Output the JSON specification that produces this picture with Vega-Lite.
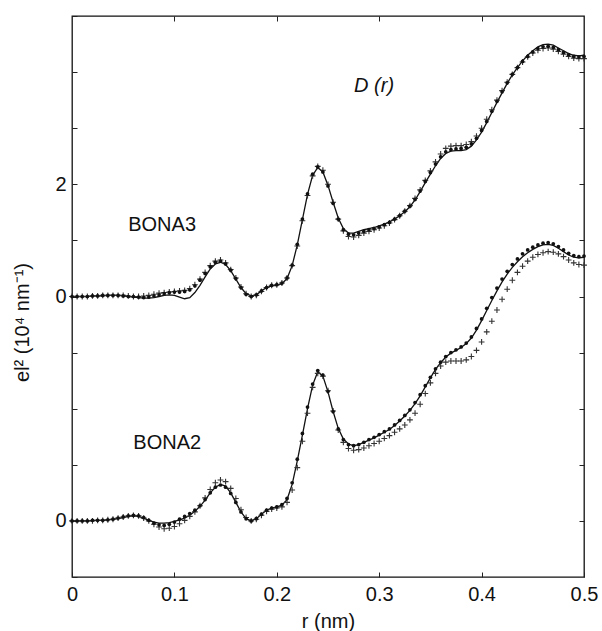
{
  "$schema": "https://vega.github.io/schema/vega-lite/v6.json",
  "width": 512,
  "height": 561,
  "autosize": {"type": "none"},
  "padding": {"left": 72, "top": 16, "right": 18, "bottom": 54},
  "background": "white",
  "config": {
    "font": "Liberation Sans",
    "view": {"stroke": "#111", "strokeWidth": 1.3},
    "axis": {"grid": false, "domain": false, "tickColor": "#222", "labelColor": "#111", "titleColor": "#111", "labelFontSize": 20, "titleFontSize": 20, "titleFontWeight": "normal", "labelFont": "Liberation Sans", "titleFont": "Liberation Sans"}
  },
  "datasets": {
    "curves": [
      {"r":0.000,"m":"BONA3","line":4.00,"plus":4.00,"dot":4.00},
      {"r":0.005,"m":"BONA3","line":4.00,"plus":4.00,"dot":4.00},
      {"r":0.010,"m":"BONA3","line":4.00,"plus":4.00,"dot":4.00},
      {"r":0.015,"m":"BONA3","line":4.00,"plus":4.00,"dot":4.00},
      {"r":0.020,"m":"BONA3","line":4.01,"plus":4.01,"dot":4.01},
      {"r":0.025,"m":"BONA3","line":4.01,"plus":4.01,"dot":4.01},
      {"r":0.030,"m":"BONA3","line":4.01,"plus":4.02,"dot":4.02},
      {"r":0.035,"m":"BONA3","line":4.02,"plus":4.02,"dot":4.02},
      {"r":0.040,"m":"BONA3","line":4.02,"plus":4.02,"dot":4.02},
      {"r":0.045,"m":"BONA3","line":4.02,"plus":4.02,"dot":4.02},
      {"r":0.050,"m":"BONA3","line":4.01,"plus":4.02,"dot":4.01},
      {"r":0.055,"m":"BONA3","line":4.00,"plus":4.01,"dot":4.00},
      {"r":0.060,"m":"BONA3","line":3.99,"plus":4.00,"dot":4.00},
      {"r":0.065,"m":"BONA3","line":3.98,"plus":4.00,"dot":3.99},
      {"r":0.070,"m":"BONA3","line":3.97,"plus":4.01,"dot":3.98},
      {"r":0.075,"m":"BONA3","line":3.97,"plus":4.02,"dot":3.99},
      {"r":0.080,"m":"BONA3","line":3.98,"plus":4.04,"dot":4.01},
      {"r":0.085,"m":"BONA3","line":4.00,"plus":4.06,"dot":4.03},
      {"r":0.090,"m":"BONA3","line":4.02,"plus":4.07,"dot":4.05},
      {"r":0.095,"m":"BONA3","line":4.03,"plus":4.08,"dot":4.07},
      {"r":0.100,"m":"BONA3","line":4.02,"plus":4.09,"dot":4.08},
      {"r":0.105,"m":"BONA3","line":3.99,"plus":4.10,"dot":4.08},
      {"r":0.110,"m":"BONA3","line":3.96,"plus":4.11,"dot":4.09},
      {"r":0.115,"m":"BONA3","line":3.98,"plus":4.14,"dot":4.12},
      {"r":0.120,"m":"BONA3","line":4.07,"plus":4.21,"dot":4.19},
      {"r":0.125,"m":"BONA3","line":4.20,"plus":4.31,"dot":4.29},
      {"r":0.130,"m":"BONA3","line":4.35,"plus":4.43,"dot":4.41},
      {"r":0.135,"m":"BONA3","line":4.49,"plus":4.55,"dot":4.53},
      {"r":0.140,"m":"BONA3","line":4.58,"plus":4.63,"dot":4.61},
      {"r":0.145,"m":"BONA3","line":4.61,"plus":4.65,"dot":4.63},
      {"r":0.150,"m":"BONA3","line":4.57,"plus":4.60,"dot":4.58},
      {"r":0.155,"m":"BONA3","line":4.46,"plus":4.48,"dot":4.47},
      {"r":0.160,"m":"BONA3","line":4.31,"plus":4.33,"dot":4.32},
      {"r":0.165,"m":"BONA3","line":4.16,"plus":4.17,"dot":4.16},
      {"r":0.170,"m":"BONA3","line":4.05,"plus":4.05,"dot":4.04},
      {"r":0.175,"m":"BONA3","line":4.01,"plus":4.00,"dot":4.00},
      {"r":0.180,"m":"BONA3","line":4.03,"plus":4.02,"dot":4.03},
      {"r":0.185,"m":"BONA3","line":4.10,"plus":4.09,"dot":4.10},
      {"r":0.190,"m":"BONA3","line":4.16,"plus":4.16,"dot":4.16},
      {"r":0.195,"m":"BONA3","line":4.19,"plus":4.20,"dot":4.20},
      {"r":0.200,"m":"BONA3","line":4.20,"plus":4.21,"dot":4.21},
      {"r":0.205,"m":"BONA3","line":4.23,"plus":4.24,"dot":4.24},
      {"r":0.210,"m":"BONA3","line":4.32,"plus":4.33,"dot":4.33},
      {"r":0.215,"m":"BONA3","line":4.55,"plus":4.55,"dot":4.56},
      {"r":0.220,"m":"BONA3","line":4.92,"plus":4.90,"dot":4.93},
      {"r":0.225,"m":"BONA3","line":5.37,"plus":5.35,"dot":5.38},
      {"r":0.230,"m":"BONA3","line":5.82,"plus":5.80,"dot":5.83},
      {"r":0.235,"m":"BONA3","line":6.16,"plus":6.15,"dot":6.18},
      {"r":0.240,"m":"BONA3","line":6.30,"plus":6.32,"dot":6.31},
      {"r":0.245,"m":"BONA3","line":6.22,"plus":6.25,"dot":6.22},
      {"r":0.250,"m":"BONA3","line":5.98,"plus":6.00,"dot":5.97},
      {"r":0.255,"m":"BONA3","line":5.68,"plus":5.68,"dot":5.66},
      {"r":0.260,"m":"BONA3","line":5.40,"plus":5.38,"dot":5.38},
      {"r":0.265,"m":"BONA3","line":5.21,"plus":5.17,"dot":5.19},
      {"r":0.270,"m":"BONA3","line":5.13,"plus":5.07,"dot":5.11},
      {"r":0.275,"m":"BONA3","line":5.13,"plus":5.06,"dot":5.10},
      {"r":0.280,"m":"BONA3","line":5.16,"plus":5.09,"dot":5.13},
      {"r":0.285,"m":"BONA3","line":5.19,"plus":5.13,"dot":5.16},
      {"r":0.290,"m":"BONA3","line":5.21,"plus":5.16,"dot":5.19},
      {"r":0.295,"m":"BONA3","line":5.23,"plus":5.19,"dot":5.21},
      {"r":0.300,"m":"BONA3","line":5.26,"plus":5.22,"dot":5.24},
      {"r":0.305,"m":"BONA3","line":5.29,"plus":5.26,"dot":5.28},
      {"r":0.310,"m":"BONA3","line":5.33,"plus":5.31,"dot":5.32},
      {"r":0.315,"m":"BONA3","line":5.38,"plus":5.37,"dot":5.38},
      {"r":0.320,"m":"BONA3","line":5.44,"plus":5.44,"dot":5.44},
      {"r":0.325,"m":"BONA3","line":5.51,"plus":5.52,"dot":5.52},
      {"r":0.330,"m":"BONA3","line":5.60,"plus":5.62,"dot":5.61},
      {"r":0.335,"m":"BONA3","line":5.72,"plus":5.75,"dot":5.73},
      {"r":0.340,"m":"BONA3","line":5.87,"plus":5.90,"dot":5.88},
      {"r":0.345,"m":"BONA3","line":6.03,"plus":6.07,"dot":6.05},
      {"r":0.350,"m":"BONA3","line":6.18,"plus":6.24,"dot":6.21},
      {"r":0.355,"m":"BONA3","line":6.33,"plus":6.40,"dot":6.36},
      {"r":0.360,"m":"BONA3","line":6.46,"plus":6.54,"dot":6.49},
      {"r":0.365,"m":"BONA3","line":6.55,"plus":6.64,"dot":6.58},
      {"r":0.370,"m":"BONA3","line":6.59,"plus":6.68,"dot":6.62},
      {"r":0.375,"m":"BONA3","line":6.60,"plus":6.69,"dot":6.63},
      {"r":0.380,"m":"BONA3","line":6.60,"plus":6.69,"dot":6.64},
      {"r":0.385,"m":"BONA3","line":6.62,"plus":6.71,"dot":6.66},
      {"r":0.390,"m":"BONA3","line":6.68,"plus":6.76,"dot":6.72},
      {"r":0.395,"m":"BONA3","line":6.79,"plus":6.86,"dot":6.82},
      {"r":0.400,"m":"BONA3","line":6.93,"plus":7.00,"dot":6.96},
      {"r":0.405,"m":"BONA3","line":7.10,"plus":7.16,"dot":7.12},
      {"r":0.410,"m":"BONA3","line":7.28,"plus":7.33,"dot":7.30},
      {"r":0.415,"m":"BONA3","line":7.46,"plus":7.50,"dot":7.48},
      {"r":0.420,"m":"BONA3","line":7.63,"plus":7.67,"dot":7.65},
      {"r":0.425,"m":"BONA3","line":7.80,"plus":7.82,"dot":7.81},
      {"r":0.430,"m":"BONA3","line":7.95,"plus":7.96,"dot":7.96},
      {"r":0.435,"m":"BONA3","line":8.08,"plus":8.08,"dot":8.08},
      {"r":0.440,"m":"BONA3","line":8.20,"plus":8.18,"dot":8.19},
      {"r":0.445,"m":"BONA3","line":8.30,"plus":8.27,"dot":8.28},
      {"r":0.450,"m":"BONA3","line":8.38,"plus":8.34,"dot":8.36},
      {"r":0.455,"m":"BONA3","line":8.45,"plus":8.39,"dot":8.42},
      {"r":0.460,"m":"BONA3","line":8.49,"plus":8.42,"dot":8.45},
      {"r":0.465,"m":"BONA3","line":8.50,"plus":8.43,"dot":8.46},
      {"r":0.470,"m":"BONA3","line":8.48,"plus":8.41,"dot":8.44},
      {"r":0.475,"m":"BONA3","line":8.43,"plus":8.37,"dot":8.40},
      {"r":0.480,"m":"BONA3","line":8.38,"plus":8.32,"dot":8.35},
      {"r":0.485,"m":"BONA3","line":8.33,"plus":8.28,"dot":8.31},
      {"r":0.490,"m":"BONA3","line":8.30,"plus":8.25,"dot":8.28},
      {"r":0.495,"m":"BONA3","line":8.29,"plus":8.24,"dot":8.27},
      {"r":0.500,"m":"BONA3","line":8.30,"plus":8.24,"dot":8.28},
      {"r":0.000,"m":"BONA2","line":0.00,"plus":0.00,"dot":0.00},
      {"r":0.005,"m":"BONA2","line":0.00,"plus":0.00,"dot":0.00},
      {"r":0.010,"m":"BONA2","line":0.00,"plus":0.00,"dot":0.00},
      {"r":0.015,"m":"BONA2","line":0.00,"plus":0.00,"dot":0.00},
      {"r":0.020,"m":"BONA2","line":0.01,"plus":0.00,"dot":0.01},
      {"r":0.025,"m":"BONA2","line":0.01,"plus":0.01,"dot":0.01},
      {"r":0.030,"m":"BONA2","line":0.01,"plus":0.01,"dot":0.01},
      {"r":0.035,"m":"BONA2","line":0.02,"plus":0.02,"dot":0.02},
      {"r":0.040,"m":"BONA2","line":0.03,"plus":0.03,"dot":0.03},
      {"r":0.045,"m":"BONA2","line":0.04,"plus":0.05,"dot":0.05},
      {"r":0.050,"m":"BONA2","line":0.06,"plus":0.07,"dot":0.07},
      {"r":0.055,"m":"BONA2","line":0.08,"plus":0.09,"dot":0.09},
      {"r":0.060,"m":"BONA2","line":0.09,"plus":0.10,"dot":0.10},
      {"r":0.065,"m":"BONA2","line":0.08,"plus":0.09,"dot":0.09},
      {"r":0.070,"m":"BONA2","line":0.05,"plus":0.05,"dot":0.06},
      {"r":0.075,"m":"BONA2","line":0.01,"plus":0.00,"dot":0.01},
      {"r":0.080,"m":"BONA2","line":-0.02,"plus":-0.06,"dot":-0.04},
      {"r":0.085,"m":"BONA2","line":-0.04,"plus":-0.11,"dot":-0.07},
      {"r":0.090,"m":"BONA2","line":-0.04,"plus":-0.14,"dot":-0.08},
      {"r":0.095,"m":"BONA2","line":-0.03,"plus":-0.13,"dot":-0.06},
      {"r":0.100,"m":"BONA2","line":-0.01,"plus":-0.10,"dot":-0.02},
      {"r":0.105,"m":"BONA2","line":0.02,"plus":-0.05,"dot":0.03},
      {"r":0.110,"m":"BONA2","line":0.05,"plus":0.01,"dot":0.08},
      {"r":0.115,"m":"BONA2","line":0.10,"plus":0.08,"dot":0.13},
      {"r":0.120,"m":"BONA2","line":0.17,"plus":0.16,"dot":0.19},
      {"r":0.125,"m":"BONA2","line":0.26,"plus":0.27,"dot":0.27},
      {"r":0.130,"m":"BONA2","line":0.37,"plus":0.41,"dot":0.38},
      {"r":0.135,"m":"BONA2","line":0.50,"plus":0.56,"dot":0.50},
      {"r":0.140,"m":"BONA2","line":0.60,"plus":0.68,"dot":0.60},
      {"r":0.145,"m":"BONA2","line":0.65,"plus":0.73,"dot":0.64},
      {"r":0.150,"m":"BONA2","line":0.62,"plus":0.70,"dot":0.60},
      {"r":0.155,"m":"BONA2","line":0.50,"plus":0.58,"dot":0.49},
      {"r":0.160,"m":"BONA2","line":0.33,"plus":0.40,"dot":0.33},
      {"r":0.165,"m":"BONA2","line":0.16,"plus":0.20,"dot":0.16},
      {"r":0.170,"m":"BONA2","line":0.04,"plus":0.06,"dot":0.04},
      {"r":0.175,"m":"BONA2","line":0.00,"plus":0.00,"dot":0.00},
      {"r":0.180,"m":"BONA2","line":0.04,"plus":0.03,"dot":0.04},
      {"r":0.185,"m":"BONA2","line":0.12,"plus":0.10,"dot":0.12},
      {"r":0.190,"m":"BONA2","line":0.19,"plus":0.17,"dot":0.19},
      {"r":0.195,"m":"BONA2","line":0.23,"plus":0.21,"dot":0.23},
      {"r":0.200,"m":"BONA2","line":0.25,"plus":0.23,"dot":0.25},
      {"r":0.205,"m":"BONA2","line":0.28,"plus":0.25,"dot":0.29},
      {"r":0.210,"m":"BONA2","line":0.38,"plus":0.33,"dot":0.40},
      {"r":0.215,"m":"BONA2","line":0.65,"plus":0.55,"dot":0.68},
      {"r":0.220,"m":"BONA2","line":1.07,"plus":0.95,"dot":1.10},
      {"r":0.225,"m":"BONA2","line":1.53,"plus":1.42,"dot":1.56},
      {"r":0.230,"m":"BONA2","line":2.00,"plus":1.92,"dot":2.03},
      {"r":0.235,"m":"BONA2","line":2.42,"plus":2.38,"dot":2.44},
      {"r":0.240,"m":"BONA2","line":2.66,"plus":2.63,"dot":2.68},
      {"r":0.245,"m":"BONA2","line":2.58,"plus":2.58,"dot":2.60},
      {"r":0.250,"m":"BONA2","line":2.30,"plus":2.32,"dot":2.31},
      {"r":0.255,"m":"BONA2","line":1.95,"plus":1.96,"dot":1.95},
      {"r":0.260,"m":"BONA2","line":1.65,"plus":1.62,"dot":1.64},
      {"r":0.265,"m":"BONA2","line":1.46,"plus":1.40,"dot":1.45},
      {"r":0.270,"m":"BONA2","line":1.37,"plus":1.29,"dot":1.36},
      {"r":0.275,"m":"BONA2","line":1.34,"plus":1.26,"dot":1.34},
      {"r":0.280,"m":"BONA2","line":1.36,"plus":1.27,"dot":1.36},
      {"r":0.285,"m":"BONA2","line":1.40,"plus":1.30,"dot":1.40},
      {"r":0.290,"m":"BONA2","line":1.44,"plus":1.34,"dot":1.45},
      {"r":0.295,"m":"BONA2","line":1.48,"plus":1.38,"dot":1.49},
      {"r":0.300,"m":"BONA2","line":1.53,"plus":1.42,"dot":1.54},
      {"r":0.305,"m":"BONA2","line":1.58,"plus":1.47,"dot":1.59},
      {"r":0.310,"m":"BONA2","line":1.63,"plus":1.52,"dot":1.64},
      {"r":0.315,"m":"BONA2","line":1.70,"plus":1.58,"dot":1.71},
      {"r":0.320,"m":"BONA2","line":1.78,"plus":1.64,"dot":1.79},
      {"r":0.325,"m":"BONA2","line":1.87,"plus":1.71,"dot":1.88},
      {"r":0.330,"m":"BONA2","line":1.97,"plus":1.80,"dot":1.98},
      {"r":0.335,"m":"BONA2","line":2.09,"plus":1.92,"dot":2.11},
      {"r":0.340,"m":"BONA2","line":2.23,"plus":2.08,"dot":2.25},
      {"r":0.345,"m":"BONA2","line":2.39,"plus":2.27,"dot":2.41},
      {"r":0.350,"m":"BONA2","line":2.55,"plus":2.46,"dot":2.56},
      {"r":0.355,"m":"BONA2","line":2.70,"plus":2.63,"dot":2.71},
      {"r":0.360,"m":"BONA2","line":2.82,"plus":2.76,"dot":2.83},
      {"r":0.365,"m":"BONA2","line":2.92,"plus":2.83,"dot":2.93},
      {"r":0.370,"m":"BONA2","line":2.99,"plus":2.85,"dot":3.00},
      {"r":0.375,"m":"BONA2","line":3.04,"plus":2.85,"dot":3.05},
      {"r":0.380,"m":"BONA2","line":3.09,"plus":2.85,"dot":3.10},
      {"r":0.385,"m":"BONA2","line":3.16,"plus":2.87,"dot":3.17},
      {"r":0.390,"m":"BONA2","line":3.26,"plus":2.93,"dot":3.28},
      {"r":0.395,"m":"BONA2","line":3.40,"plus":3.04,"dot":3.43},
      {"r":0.400,"m":"BONA2","line":3.57,"plus":3.19,"dot":3.60},
      {"r":0.405,"m":"BONA2","line":3.75,"plus":3.37,"dot":3.79},
      {"r":0.410,"m":"BONA2","line":3.93,"plus":3.56,"dot":3.98},
      {"r":0.415,"m":"BONA2","line":4.10,"plus":3.76,"dot":4.15},
      {"r":0.420,"m":"BONA2","line":4.26,"plus":3.95,"dot":4.31},
      {"r":0.425,"m":"BONA2","line":4.40,"plus":4.13,"dot":4.45},
      {"r":0.430,"m":"BONA2","line":4.52,"plus":4.29,"dot":4.57},
      {"r":0.435,"m":"BONA2","line":4.62,"plus":4.43,"dot":4.67},
      {"r":0.440,"m":"BONA2","line":4.71,"plus":4.54,"dot":4.76},
      {"r":0.445,"m":"BONA2","line":4.78,"plus":4.63,"dot":4.83},
      {"r":0.450,"m":"BONA2","line":4.84,"plus":4.70,"dot":4.88},
      {"r":0.455,"m":"BONA2","line":4.89,"plus":4.75,"dot":4.92},
      {"r":0.460,"m":"BONA2","line":4.92,"plus":4.78,"dot":4.95},
      {"r":0.465,"m":"BONA2","line":4.93,"plus":4.80,"dot":4.96},
      {"r":0.470,"m":"BONA2","line":4.91,"plus":4.79,"dot":4.94},
      {"r":0.475,"m":"BONA2","line":4.86,"plus":4.76,"dot":4.89},
      {"r":0.480,"m":"BONA2","line":4.80,"plus":4.71,"dot":4.83},
      {"r":0.485,"m":"BONA2","line":4.74,"plus":4.65,"dot":4.77},
      {"r":0.490,"m":"BONA2","line":4.70,"plus":4.60,"dot":4.73},
      {"r":0.495,"m":"BONA2","line":4.69,"plus":4.57,"dot":4.71},
      {"r":0.500,"m":"BONA2","line":4.70,"plus":4.56,"dot":4.72}
    ],
    "names": [
      {"r": 0.088, "y": 5.28, "t": "BONA3"},
      {"r": 0.093, "y": 1.39, "t": "BONA2"}
    ],
    "func": [
      {"r": 0.295, "y": 7.75, "t": "D (r)"}
    ]
  },
  "resolve": {"axis": {"x": "independent", "y": "independent"}},
  "layer": [
    {
      "data": {"name": "curves"},
      "mark": {"type": "line", "color": "#111", "strokeWidth": 1.3, "clip": true},
      "encoding": {
        "x": {"field": "r", "type": "quantitative", "scale": {"domain": [0, 0.5], "nice": false, "zero": false},
          "axis": {"orient": "bottom", "values": [0, 0.1, 0.2, 0.3, 0.4, 0.5], "labelExpr": "datum.value == 0 ? '0' : format(datum.value, '.1f')", "tickSize": -5, "labelPadding": 12, "labelFlush": false, "title": "r (nm)", "titleBaseline": "middle", "titleY": 44}},
        "y": {"field": "line", "type": "quantitative", "scale": {"domain": [-1, 9], "nice": false, "zero": false},
          "axis": {"orient": "left", "values": [-1, 0, 1, 2, 3, 4, 5, 6, 7, 8, 9], "labelExpr": "datum.value == 0 ? '0' : datum.value == 4 ? '0' : datum.value == 6 ? '2' : ''", "tickSize": -5, "labelPadding": 11, "title": "el² (10⁴ nm⁻¹)", "titleX": -50, "titleY": 306, "titleBaseline": "middle", "titleAngle": -90}},
        "detail": {"field": "m"}
      }
    },
    {
      "data": {"name": "curves"},
      "mark": {"type": "point", "shape": "M-1,0H1M0,-1V1", "size": 34, "filled": false, "stroke": "#333", "strokeWidth": 1.1, "opacity": 1},
      "encoding": {
        "x": {"field": "r", "type": "quantitative", "axis": {"orient": "top", "values": [0.1, 0.2, 0.3, 0.4], "labels": false, "tickSize": -5, "title": null}},
        "y": {"field": "plus", "type": "quantitative", "axis": {"orient": "right", "values": [0, 1, 2, 3, 4, 5, 6, 7, 8], "labels": false, "tickSize": -5, "title": null}}
      }
    },
    {
      "data": {"name": "curves"},
      "mark": {"type": "point", "shape": "circle", "size": 14, "filled": true, "color": "#111", "opacity": 1},
      "encoding": {
        "x": {"field": "r", "type": "quantitative", "axis": null},
        "y": {"field": "dot", "type": "quantitative", "axis": null}
      }
    },
    {
      "data": {"name": "names"},
      "mark": {"type": "text", "fontSize": 20, "font": "Liberation Sans", "color": "#111"},
      "encoding": {
        "x": {"field": "r", "type": "quantitative", "axis": null},
        "y": {"field": "y", "type": "quantitative", "axis": null},
        "text": {"field": "t"}
      }
    },
    {
      "data": {"name": "func"},
      "mark": {"type": "text", "fontSize": 20, "font": "Liberation Sans", "fontStyle": "italic", "color": "#111"},
      "encoding": {
        "x": {"field": "r", "type": "quantitative", "axis": null},
        "y": {"field": "y", "type": "quantitative", "axis": null},
        "text": {"field": "t"}
      }
    }
  ]
}
